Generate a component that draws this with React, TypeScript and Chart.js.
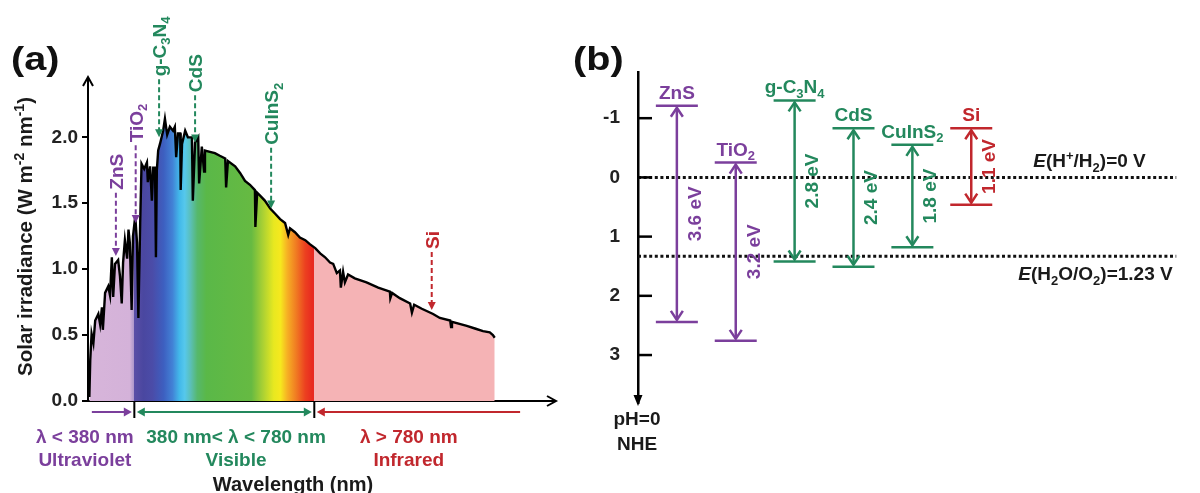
import React, { useEffect, useRef } from 'react';
import { Chart, registerables } from 'chart.js';
Chart.register(...registerables);

const FONT = '"Liberation Sans", Arial, Helvetica, sans-serif';
const PURPLE = '#7b3f9c';
const GREEN = '#23885d';
const RED = '#c1272d';
const INK = '#1a1a1a';

// ---------------- Panel (a): solar spectrum ----------------
const spectrumWavelength = [
  280, 282, 285, 289, 293, 300, 304, 308, 310, 315, 322, 326, 330, 333, 337, 344, 348, 352, 355, 359,
  364, 367, 370, 374, 377, 382, 386, 389, 393, 396, 402, 408, 410, 415, 419, 422, 426, 428, 430, 433,
  437, 444, 448, 453, 459, 466, 470, 473, 477, 482, 483, 486, 493, 499, 508, 510, 515, 522, 524, 530,
  535, 537, 548, 559, 570, 582, 584, 588, 604, 615, 626, 637, 648, 649, 653, 659, 670, 682, 693, 704,
  715, 722, 726, 737, 748, 760, 770, 782, 793, 804, 815, 822, 830, 837, 839, 844, 848, 855, 870, 896,
  922, 948, 949, 953, 970, 993, 997, 1002, 1019, 1044, 1059, 1082, 1084, 1086, 1119, 1137, 1155, 1170,
  1177, 1181,
];
const spectrumIrradiance = [
  0.03, 0.31, 0.51, 0.44, 0.61, 0.66, 0.58, 0.71, 0.54, 0.82, 0.87, 0.80, 1.09, 0.79, 1.04, 1.07, 0.95, 0.74, 1.05, 1.22,
  1.08, 1.30, 1.20, 0.69, 1.25, 1.40, 1.20, 0.63, 1.35, 1.80, 1.76, 1.81, 1.66, 1.78, 1.52, 1.77, 1.77, 1.09, 1.75, 1.90,
  1.95, 2.05, 2.14, 2.02, 2.08, 2.05, 2.08, 1.85, 2.03, 2.03, 1.60, 1.95, 2.05, 2.00, 2.00, 1.52, 1.96, 2.00, 1.65, 1.93,
  1.74, 1.90, 1.89, 1.88, 1.86, 1.84, 1.62, 1.82, 1.78, 1.73, 1.67, 1.64, 1.60, 1.32, 1.58, 1.56, 1.52, 1.46, 1.42, 1.38,
  1.35, 1.26, 1.31, 1.28, 1.24, 1.22, 1.19, 1.16, 1.12, 1.09, 1.05, 1.04, 0.97, 0.99, 0.86, 0.98, 0.90, 0.96, 0.93, 0.90,
  0.86, 0.83, 0.78, 0.82, 0.78, 0.74, 0.67, 0.73, 0.70, 0.66, 0.63, 0.61, 0.56, 0.60, 0.57, 0.55, 0.53, 0.52,
  0.50, 0.48,
];
const irradianceTicks = [0, 0.5, 1.0, 1.5, 2.0];

// fill colour stops along wavelength (hard steps at 380 and 780 nm)
const fillStopWavelength = [280, 370, 380, 380, 400, 420, 445, 465, 480, 492, 505, 520, 540, 640, 665, 690, 705, 720, 740, 760, 775, 780, 780, 1320];
const fillStopColor = [
  '#d7b5da', '#d4b2d9', '#a893c9', '#5a4ea6', '#4a47a0', '#4b4ca8', '#3d5fc0', '#4282d6', '#42b8ea', '#56c8ec',
  '#5bbfb8', '#56b86c', '#5ab848', '#66ba42', '#a8d034', '#e8e820', '#f6e81e', '#f6b024', '#f07a22', '#ec4020',
  '#e82a20', '#e82a22', '#f5b3b5', '#f5b3b5',
];

// band-gap absorption edges marked on the spectrum
const edgeNames = ['ZnS', 'TiO2', 'g-C3N4', 'CdS', 'CuInS2', 'Si'];
const edgeWavelength = [339, 383, 435, 515, 684, 1041];
const edgeTipIrradiance = [1.10, 1.35, 2.0, 1.96, 1.46, 0.69];
const edgeLabelBase = [1.58, 1.94, 2.44, 2.32, 1.92, 1.13];
const edgeColors = [PURPLE, PURPLE, GREEN, GREEN, GREEN, RED];

// spectral regions under the axis
const regionNames = ['Ultraviolet', 'Visible', 'Infrared'];
const regionRanges = ['λ < 380 nm', '380 nm< λ < 780 nm', 'λ > 780 nm'];
const regionFrom = [280, 380, 780];
const regionTo = [380, 780, 1243];
const regionLabelAt = [270, 606, 990];
const regionColors = [PURPLE, GREEN, RED];
const regionBoundaries = [380, 780];

// ---------------- Panel (b): band positions ----------------
const materials = ['ZnS', 'TiO2', 'g-C3N4', 'CdS', 'CuInS2', 'Si'];
const cbLevels = [-1.21, -0.25, -1.30, -0.83, -0.55, -0.83];
const vbLevels = [2.44, 2.76, 1.42, 1.51, 1.18, 0.46];
const bandGaps = ['3.6', '3.2', '2.8', '2.4', '1.8', '1.1'];
const materialColors = [PURPLE, PURPLE, GREEN, GREEN, GREEN, RED];
const potentialTicks = [-1, 0, 1, 2, 3];
const redoxLevels = [0, 1.33];

// ---------------- rich text helpers ----------------
type Seg = { t: string; s?: 'sub' | 'sup'; i?: boolean };
const N = (t: string): Seg => ({ t });
const SUB = (t: string): Seg => ({ t, s: 'sub' });
const SUP = (t: string): Seg => ({ t, s: 'sup' });
const IT = (t: string): Seg => ({ t, i: true });

const RICH: Record<string, Seg[]> = {
  TiO2: [N('TiO'), SUB('2')],
  'g-C3N4': [N('g-C'), SUB('3'), N('N'), SUB('4')],
  CuInS2: [N('CuInS'), SUB('2')],
};
const richName = (n: string): Seg[] => RICH[n] || [N(n)];

function segFont(seg: Seg, size: number, weight: string) {
  const sz = seg.s ? Math.round(size * 0.68) : size;
  return `${seg.i ? 'italic ' : ''}${weight} ${sz}px ${FONT}`;
}

function drawRich(ctx: CanvasRenderingContext2D, segs: Seg[], x: number, y: number, o: any = {}) {
  const size = o.size ?? 19;
  const weight = o.weight ?? 'bold';
  const align = o.align ?? 'left';
  ctx.save();
  ctx.translate(x, y);
  if (o.rot) ctx.rotate(o.rot);
  if (o.sx) ctx.scale(o.sx, 1);
  let w = 0;
  for (const s of segs) {
    ctx.font = segFont(s, size, weight);
    w += ctx.measureText(s.t).width;
  }
  let cx = align === 'center' ? -w / 2 : align === 'right' ? -w : 0;
  const base = o.middle ? size * 0.36 : 0;
  ctx.fillStyle = o.color ?? INK;
  ctx.textAlign = 'left';
  ctx.textBaseline = 'alphabetic';
  for (const s of segs) {
    ctx.font = segFont(s, size, weight);
    const dy = s.s === 'sub' ? size * 0.24 : s.s === 'sup' ? -size * 0.4 : 0;
    ctx.fillText(s.t, cx, base + dy);
    cx += ctx.measureText(s.t).width;
  }
  ctx.restore();
}

function seg(ctx: CanvasRenderingContext2D, x1: number, y1: number, x2: number, y2: number) {
  ctx.beginPath();
  ctx.moveTo(x1, y1);
  ctx.lineTo(x2, y2);
  ctx.stroke();
}
function triangle(ctx: CanvasRenderingContext2D, tx: number, ty: number, dx: number, dy: number, len: number, half: number) {
  const bx = tx - dx * len, by = ty - dy * len;
  const px = -dy * half, py = dx * half;
  ctx.beginPath();
  ctx.moveTo(tx, ty);
  ctx.lineTo(bx + px, by + py);
  ctx.lineTo(bx - px, by - py);
  ctx.closePath();
  ctx.fill();
}
function chevron(ctx: CanvasRenderingContext2D, tx: number, ty: number, dx: number, dy: number, len: number, half: number) {
  const bx = tx - dx * len, by = ty - dy * len;
  const px = -dy * half, py = dx * half;
  ctx.beginPath();
  ctx.moveTo(bx + px, by + py);
  ctx.lineTo(tx, ty);
  ctx.lineTo(bx - px, by - py);
  ctx.stroke();
}

function panelLetter(ctx: CanvasRenderingContext2D, text: string, x: number) {
  ctx.save();
  ctx.translate(x, 70);
  ctx.scale(1.2, 1);
  ctx.font = `bold 33px ${FONT}`;
  ctx.fillStyle = '#111';
  ctx.textBaseline = 'alphabetic';
  ctx.textAlign = 'left';
  ctx.fillText(text, 0, 0);
  ctx.restore();
}

const spectrumFill = (context: any) => {
  const chart = context.chart;
  const { ctx, chartArea, scales } = chart;
  if (!chartArea || !scales.x) return 'rgba(0,0,0,0)';
  const xs = scales.x;
  const x0 = xs.getPixelForValue(fillStopWavelength[0]);
  const x1 = xs.getPixelForValue(fillStopWavelength[fillStopWavelength.length - 1]);
  const g = ctx.createLinearGradient(x0, 0, x1, 0);
  fillStopWavelength.forEach((w, i) => {
    const p = (xs.getPixelForValue(w) - x0) / (x1 - x0);
    g.addColorStop(Math.min(1, Math.max(0, p)), fillStopColor[i]);
  });
  return g;
};

const panelAPlugin = {
  id: 'panelA',
  afterDraw(chart: any) {
    const { ctx, chartArea: ca } = chart;
    const xs = chart.scales.x, ys = chart.scales.y;
    ctx.save();
    ctx.strokeStyle = '#000';
    ctx.fillStyle = '#000';
    ctx.lineWidth = 2;
    chevron(ctx, ca.left, ca.top - 1, 0, -1, 9, 5);
    chevron(ctx, ca.right + 1, ca.bottom, 1, 0, 9, 5);

    panelLetter(ctx, '(a)', 11);

    drawRich(ctx, [N('Solar irradiance (W m'), SUP('-2'), N(' nm'), SUP('-1'), N(')')], 25, (ca.top + ca.bottom) / 2 - 3,
      { rot: -Math.PI / 2, align: 'center', middle: true, size: 20.5 });

    edgeNames.forEach((name, i) => {
      const x = xs.getPixelForValue(edgeWavelength[i]);
      const tip = ys.getPixelForValue(edgeTipIrradiance[i]);
      const top = ys.getPixelForValue(edgeLabelBase[i]);
      const c = edgeColors[i];
      ctx.strokeStyle = c;
      ctx.fillStyle = c;
      ctx.lineWidth = 2;
      ctx.setLineDash([5, 3]);
      seg(ctx, x, top, x, tip - 7);
      ctx.setLineDash([]);
      triangle(ctx, x, tip, 0, 1, 8, 4);
      drawRich(ctx, richName(name), x, top - 3, { rot: -Math.PI / 2, align: 'left', middle: true, color: c });
    });

    // region boundaries
    ctx.strokeStyle = '#000';
    ctx.lineWidth = 2;
    regionBoundaries.forEach((w) => {
      const x = xs.getPixelForValue(w);
      seg(ctx, x, ca.bottom, x, ca.bottom + 17);
    });
    const ay = ca.bottom + 11;
    regionNames.forEach((name, i) => {
      const c = regionColors[i];
      const x1 = xs.getPixelForValue(regionFrom[i]) + 2.5;
      const x2 = xs.getPixelForValue(regionTo[i]) - 2.5;
      const hs = i > 0, he = i < 2;
      ctx.strokeStyle = c;
      ctx.fillStyle = c;
      ctx.lineWidth = 2.2;
      seg(ctx, x1 + (hs ? 6 : 0), ay, x2 - (he ? 6 : 0), ay);
      if (hs) triangle(ctx, x1, ay, -1, 0, 8, 4.5);
      if (he) triangle(ctx, x2, ay, 1, 0, 8, 4.5);
      const lx = xs.getPixelForValue(regionLabelAt[i]);
      drawRich(ctx, [N(regionRanges[i])], lx, ca.bottom + 35, { align: 'center', middle: true, color: c });
      drawRich(ctx, [N(name)], lx, ca.bottom + 58, { align: 'center', middle: true, color: c });
    });
    drawRich(ctx, [N('Wavelength (nm)')], 293, ca.bottom + 83, { align: 'center', middle: true, size: 20 });
    ctx.restore();
  },
};

const panelBPlugin = {
  id: 'panelB',
  afterDraw(chart: any) {
    const { ctx, chartArea: ca } = chart;
    const xs = chart.scales.x, ys = chart.scales.y;
    ctx.save();
    ctx.strokeStyle = '#000';
    ctx.fillStyle = '#000';
    ctx.lineWidth = 2.5;
    potentialTicks.forEach((v) => {
      const y = ys.getPixelForValue(v);
      seg(ctx, ca.left, y, ca.left + 14, y);
    });
    triangle(ctx, ca.left, ca.bottom + 3, 0, 1, 11, 4.5);

    panelLetter(ctx, '(b)', 13);

    drawRich(ctx, [N('pH=0')], ca.left - 1, ca.bottom + 15, { align: 'center', middle: true });
    drawRich(ctx, [N('NHE')], ca.left - 1, ca.bottom + 40, { align: 'center', middle: true });

    drawRich(ctx, [IT('E'), N('(H'), SUP('+'), N('/H'), SUB('2'), N(')=0 V')], ca.right - 87, ys.getPixelForValue(redoxLevels[0]) - 17,
      { align: 'center', middle: true });
    drawRich(ctx, [IT('E'), N('(H'), SUB('2'), N('O/O'), SUB('2'), N(')=1.23 V')], ca.right - 81, ys.getPixelForValue(redoxLevels[1]) + 17,
      { align: 'center', middle: true });

    materials.forEach((m, i) => {
      const c = materialColors[i];
      const x = xs.getPixelForValue(i);
      const yc = ys.getPixelForValue(cbLevels[i]);
      const yv = ys.getPixelForValue(vbLevels[i]);
      ctx.strokeStyle = c;
      ctx.lineWidth = 2.5;
      seg(ctx, x, yc + 2, x, yv - 2);
      chevron(ctx, x, yc + 2, 0, -1, 9, 6);
      chevron(ctx, x, yv - 2, 0, 1, 9, 6);
      drawRich(ctx, richName(m), x, yc - 7, { align: 'center', color: c });
      drawRich(ctx, [N(`${bandGaps[i]} eV`)], x + 17, (yc + yv) / 2, { rot: -Math.PI / 2, align: 'center', middle: true, color: c });
    });
    ctx.restore();
  },
};

const tickFont = { family: FONT, size: 19, weight: 'bold' as const };

export default function App() {
  const refA = useRef<HTMLCanvasElement>(null);
  const refB = useRef<HTMLCanvasElement>(null);

  useEffect(() => {
    Chart.defaults.font.family = FONT;
    const spectrum = spectrumWavelength.map((w, i) => ({ x: w, y: spectrumIrradiance[i] }));
    const chartA = new Chart(refA.current as HTMLCanvasElement, {
      type: 'line',
      data: {
        datasets: [
          {
            data: spectrum,
            borderColor: '#000',
            borderWidth: 2.4,
            pointRadius: 0,
            tension: 0,
            fill: 'origin',
            backgroundColor: spectrumFill,
          } as any,
        ],
      },
      options: {
        animation: false,
        responsive: true,
        maintainAspectRatio: false,
        events: [],
        layout: { padding: { left: 0, top: 78, right: 5, bottom: 92 } },
        plugins: { legend: { display: false }, tooltip: { enabled: false } },
        scales: {
          x: {
            type: 'linear',
            min: 277,
            max: 1315,
            ticks: { display: false },
            grid: { display: false },
            border: { display: true, color: '#000', width: 2 },
            afterFit: (s: any) => { s.height = 0; },
          },
          y: {
            min: 0,
            max: 2.45,
            afterBuildTicks: (s: any) => { s.ticks = irradianceTicks.map((v) => ({ value: v })); },
            ticks: { callback: (v: any) => Number(v).toFixed(1), font: tickFont, color: '#222', padding: 4 },
            grid: { display: true, drawOnChartArea: false, drawTicks: true, tickLength: 6, color: '#000', lineWidth: 2 },
            border: { display: true, color: '#000', width: 2 },
            afterFit: (s: any) => { s.width = 88; },
          },
        },
      } as any,
      plugins: [panelAPlugin],
    });

    const cbPoints = materials.map((_, i) => ({ x: i, y: cbLevels[i] }));
    const vbPoints = materials.map((_, i) => ({ x: i, y: vbLevels[i] }));
    const xMin = -0.66, xMax = 8.486;
    const levelStyle = {
      type: 'scatter',
      pointStyle: 'line',
      pointRadius: 21,
      pointBorderWidth: 2.5,
      borderWidth: 2.5,
      pointBorderColor: materialColors,
      borderColor: materialColors,
      backgroundColor: materialColors,
      clip: false,
    };
    const chartB = new Chart(refB.current as HTMLCanvasElement, {
      type: 'scatter',
      data: {
        datasets: [
          { ...levelStyle, data: cbPoints } as any,
          { ...levelStyle, data: vbPoints } as any,
          ...redoxLevels.map((lv) => ({
            type: 'line',
            data: [{ x: xMin, y: lv }, { x: xMax, y: lv }],
            borderColor: '#111',
            borderWidth: 3,
            borderDash: [3, 2.6],
            pointRadius: 0,
            fill: false,
          }) as any),
        ],
      },
      options: {
        animation: false,
        responsive: true,
        maintainAspectRatio: false,
        events: [],
        layout: { padding: { left: 0, top: 72, right: 5, bottom: 90 } },
        plugins: { legend: { display: false }, tooltip: { enabled: false } },
        scales: {
          x: { type: 'linear', min: xMin, max: xMax, display: false },
          y: {
            type: 'linear',
            reverse: true,
            min: -1.78,
            max: 3.81,
            afterBuildTicks: (s: any) => { s.ticks = potentialTicks.map((v) => ({ value: v })); },
            ticks: { callback: (v: any) => String(v), font: tickFont, color: '#222', padding: 10 },
            grid: { display: false },
            border: { display: true, color: '#000', width: 2.5 },
            afterFit: (s: any) => { s.width = 78; },
          },
        },
      } as any,
      plugins: [panelBPlugin],
    });

    return () => {
      chartA.destroy();
      chartB.destroy();
    };
  }, []);

  return (
    <div style={{ position: 'fixed', left: 0, top: 0, width: 1200, height: 493, background: '#fff', overflow: 'hidden' }}>
      <div style={{ position: 'absolute', left: 0, top: 0, width: 560, height: 493 }}>
        <canvas ref={refA} />
      </div>
      <div style={{ position: 'absolute', left: 560, top: 0, width: 640, height: 493 }}>
        <canvas ref={refB} />
      </div>
    </div>
  );
}
